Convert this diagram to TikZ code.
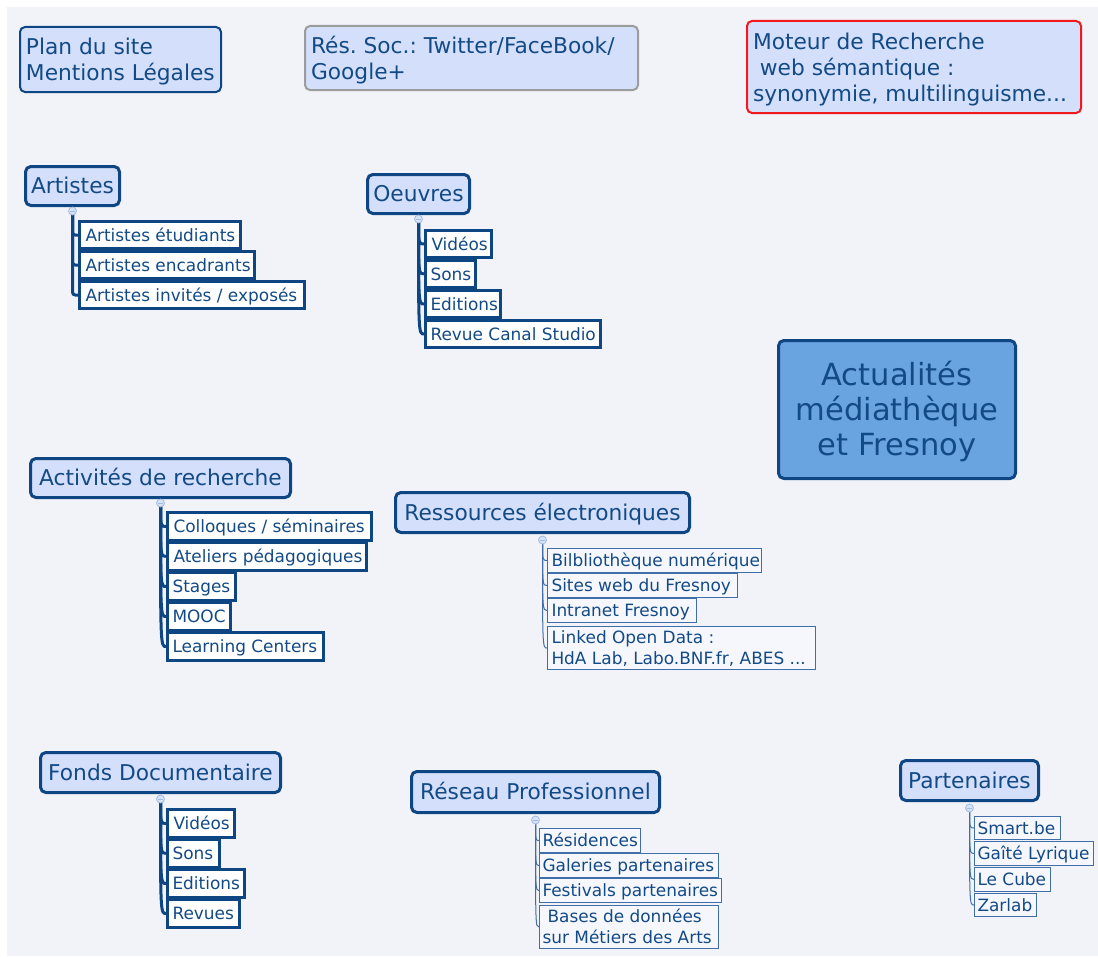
\documentclass[tikz,border=0pt]{standalone}
\usepackage{fontspec}
\setmainfont{DejaVu Sans}
\usetikzlibrary{calc}
\frenchspacing
\definecolor{bg}{HTML}{F2F3F9}
\definecolor{dblue}{HTML}{0E4583}
\definecolor{txt}{HTML}{134A86}
\definecolor{tfill}{HTML}{D4E0FB}
\definecolor{mfill}{HTML}{69A3E0}
\definecolor{thin}{HTML}{3F6EA8}
\definecolor{tfilltwo}{HTML}{F6F7FC}
\definecolor{grayb}{HTML}{9C9C9C}
\definecolor{redb}{HTML}{F01A1E}
\definecolor{circf}{HTML}{D6E2F6}
\definecolor{circd}{HTML}{A3BCE3}
% \NB[pad]{style}{name}{x}{y}{w}{h}{text}  (pixel units), left aligned
\newcommand\NB[8][5]{%
  \pgfmathsetmacro\tw{(#6-2*#1)*0.75}%
  \pgfmathsetmacro\ix{#1*0.75}%
  \node[#2,inner xsep=\ix pt,minimum height=#7*0.75pt] (#3) at (#4,#5)
    {\raisebox{-0.13em}[\height][\depth]{\makebox[\tw pt][l]{\begin{tabular}{@{}l@{}}#8\end{tabular}}}};}
% centred variant
\newcommand\NC[8][5]{%
  \pgfmathsetmacro\tw{(#6-2*#1)*0.75}%
  \pgfmathsetmacro\ix{#1*0.75}%
  \node[#2,inner xsep=\ix pt,minimum height=#7*0.75pt] (#3) at (#4,#5)
    {\raisebox{-0.13em}[\height][\depth]{\makebox[\tw pt][c]{\begin{tabular}{@{}c@{}}#8\end{tabular}}}};}
\tikzset{
  base/.style={anchor=north west, inner ysep=0pt, text=txt},
  topbox/.style={base, rounded corners=3.75pt, line width=1.5pt, fill=tfill, font=\fontsize{16.3pt}{19.5pt}\selectfont},
  topic/.style={base, rounded corners=4pt, line width=2.25pt, draw=dblue, fill=tfill, font=\fontsize{16.3pt}{18pt}\selectfont},
  mainbox/.style={base, rounded corners=4pt, line width=2.25pt, draw=dblue, fill=mfill, font=\fontsize{22.9pt}{26.25pt}\selectfont},
  kid/.style={base, line width=2.25pt, draw=dblue, fill=white, font=\fontsize{12.7pt}{15.75pt}\selectfont},
  tkid/.style={base, line width=0.75pt, draw=thin, fill=tfilltwo, font=\fontsize{12.7pt}{15.75pt}\selectfont},
  link/.style={line width=2.25pt, draw=dblue},
  tlink/.style={line width=0.75pt, draw=thin},
  knob/.style={fill=circf, draw=circd, line width=0.6pt},
}
\begin{document}
\begin{tikzpicture}[x=0.75pt,y=-0.75pt]
\useasboundingbox (0,0) rectangle (1098,956);
\fill[white] (0,0) rectangle (1098,956);
\fill[bg] (7,7) rectangle (1098,956);

% top row
\NB[6]{topbox,draw=dblue}{plan}{19}{26}{201}{65}{Plan du site\\Mentions Légales}
\NB[6]{topbox,draw=grayb}{soc}{304}{25}{333}{64}{Rés. Soc.: Twitter/FaceBook/\\Google+}
\NB[6]{topbox,draw=redb}{mot}{746}{20}{334}{92}{Moteur de Recherche\\\hspace*{0.32em}web sémantique :\\synonymie, multilinguisme...}

% main topic
\NC[4]{mainbox}{main}{777}{339}{237}{138}{Actualités\\médiathèque\\et Fresnoy}

% topics
\NC[3]{topic}{art}{24}{165}{94}{39}{Artistes}
\NC[3]{topic}{oeu}{366}{173}{102}{39}{Oeuvres}
\NC[3]{topic}{act}{29}{457}{260}{39}{Activités de recherche}
\NC[3]{topic}{res}{394}{491}{294}{40}{Ressources électroniques}
\NC[3]{topic}{fon}{39}{751}{240}{40}{Fonds Documentaire}
\NC[3]{topic}{rpr}{410}{770}{248}{41}{Réseau Professionnel}
\NC[3]{topic}{par}{899}{759}{138}{40}{Partenaires}

% Artistes children
\NB[6]{kid}{a1}{78}{220}{161}{27}{Artistes étudiants}
\NB[6]{kid}{a2}{78}{250}{175}{27}{Artistes encadrants}
\NB[6]{kid}{a3}{78}{280}{225}{27}{Artistes invités / exposés}
% Oeuvres children
\NB[6]{kid}{o1}{424}{229}{66}{27}{Vidéos}
\NB[5]{kid}{o2}{424}{259}{50}{27}{Sons}
\NB[5]{kid}{o3}{424}{289}{75}{27}{Editions}
\NB[5]{kid}{o4}{424}{319}{175}{27}{Revue Canal Studio}
% Activites children
\NB[6]{kid}{c1}{166}{511}{204}{28}{Colloques / séminaires}
\NB[6]{kid}{c2}{166}{541}{199}{28}{Ateliers pédagogiques}
\NB[5]{kid}{c3}{166}{571}{68}{28}{Stages}
\NB[5]{kid}{c4}{166}{601}{63}{28}{MOOC}
\NB[5]{kid}{c5}{166}{631}{156}{28}{Learning Centers}
% Fonds children
\NB[6]{kid}{f1}{166}{808}{67}{28}{Vidéos}
\NB[5]{kid}{f2}{166}{838}{52}{28}{Sons}
\NB[5]{kid}{f3}{166}{868}{77}{28}{Editions}
\NB[5]{kid}{f4}{166}{898}{72}{28}{Revues}
% Ressources children
\NB[4]{tkid}{r1}{547}{548}{214}{24}{Bilbliothèque numérique}
\NB[4]{tkid}{r2}{547}{573}{190}{24}{Sites web du Fresnoy}
\NB[4]{tkid}{r3}{547}{598}{149}{24}{Intranet Fresnoy}
\NB[4]{tkid}{r4}{547}{626}{268}{43}{Linked Open Data :\\HdA Lab, Labo.BNF.fr, ABES ...}
% Reseau children
\NB[3]{tkid}{p1}{539}{828}{101}{24}{Résidences}
\NB[3]{tkid}{p2}{539}{853}{179}{24}{Galeries partenaires}
\NB[3]{tkid}{p3}{539}{878}{182}{24}{Festivals partenaires}
\NB[3]{tkid}{p4}{539}{905}{179}{43}{\hspace*{0.3em}Bases de données\\sur Métiers des Arts}
% Partenaires children
\NB[3]{tkid}{q1}{974}{816}{86}{23}{Smart.be}
\NB[3]{tkid}{q2}{974}{841}{119}{24}{Gaîté Lyrique}
\NB[3]{tkid}{q3}{974}{867}{76}{24}{Le Cube}
\NB[3]{tkid}{q4}{974}{893}{62}{23}{Zarlab}

% origins
\coordinate (oA) at ($(art.south)+(0,4)$);
\coordinate (oO) at ($(oeu.south)+(0,4)$);
\coordinate (oC) at ($(act.south)+(0,4)$);
\coordinate (oR) at ($(res.south)+(0,6)$);
\coordinate (oF) at ($(fon.south)+(0,5)$);
\coordinate (oP) at ($(rpr.south)+(0,6)$);
\coordinate (oQ) at ($(par.south)+(0,6)$);

% connectors
\foreach \c in {a1,a2,a3} \draw[link,rounded corners=2pt] (oA) |- (\c.west);
\foreach \c in {o1,o2,o3,o4} \draw[link] (oO) .. controls (oO |- \c.west) .. (\c.west);
\foreach \c in {c1,c2,c3,c4,c5} \draw[link] (oC) .. controls (oC |- \c.west) .. (\c.west);
\foreach \c in {f1,f2,f3,f4} \draw[link] (oF) .. controls (oF |- \c.west) .. (\c.west);
\foreach \c in {r1,r2,r3,r4} \draw[tlink] (oR) .. controls (oR |- \c.west) .. (\c.west);
\foreach \c in {p1,p2,p3,p4} \draw[tlink] (oP) .. controls (oP |- \c.west) .. (\c.west);
\foreach \c in {q1,q2,q3,q4} \draw[tlink] (oQ) .. controls (oQ |- \c.west) .. (\c.west);

% knobs
\foreach \o in {oA,oO,oC,oR,oF,oP,oQ}{
  \draw[knob] (\o) circle[radius=3pt];
  \draw[circd,line width=0.6pt] ($(\o)+(-2.2,0)$) -- ($(\o)+(2.2,0)$);
}
\end{tikzpicture}
\end{document}
